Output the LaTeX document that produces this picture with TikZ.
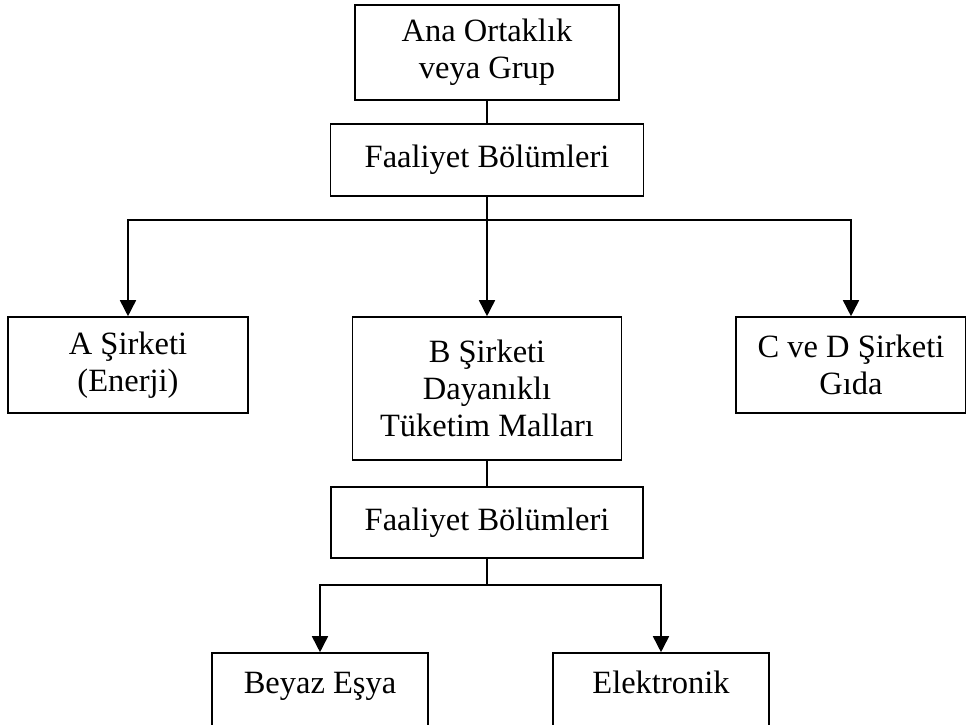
\documentclass[tikz,border=0pt]{standalone}
\usepackage{fontspec}
\setmainfont{Liberation Serif}
\usetikzlibrary{arrows.meta}
\begin{document}
\begin{tikzpicture}[x=1pt,y=-1pt,
  box/.style={draw, line width=1.6pt, rectangle, align=center, inner sep=0pt,
    font=\fontsize{32.5}{37}\selectfont},
  lowbox/.style={box, text height=21pt, text depth=23pt},
  link/.style={line width=1.6pt},
  arr/.style={line width=1.6pt, -{Triangle[width=16pt,length=16pt]}}]
\useasboundingbox (0,0) rectangle (966,724);
\clip (0,0) rectangle (966,724);
\node[box, minimum width=264pt, minimum height=95pt] (top) at (487,52.5) {Ana Ortaklık\\veya Grup};
\node[box, minimum width=313pt, minimum height=72pt] (fb1) at (487,160) {Faaliyet Bölümleri};
\node[box, minimum width=240pt, minimum height=96pt] (A) at (128,365) {A Şirketi\\(Enerji)};
\node[box, minimum width=269pt, minimum height=143pt] (B) at (487,388.5) {B Şirketi\\Dayanıklı\\Tüketim Malları};
\node[box, minimum width=230pt, minimum height=96pt] (C) at (851,365) {C ve D Şirketi\\Gıda};
\node[box, minimum width=312pt, minimum height=71pt] (fb2) at (487,522.5) {Faaliyet Bölümleri};
\node[lowbox, minimum width=216pt, minimum height=82pt] (be) at (320,694) {Beyaz Eşya};
\node[lowbox, minimum width=216pt, minimum height=82pt] (el) at (661,694) {Elektronik};
\coordinate (j1) at (487,220);
\coordinate (j2) at (487,585);
\draw[link] (top.south) -- (fb1.north);
\draw[link] (fb1.south) -- (j1);
\draw[arr] (j1) -| (A.north);
\draw[arr] (j1) -| (C.north);
\draw[arr] (fb1.south) -- (B.north);
\draw[link] (B.south) -- (fb2.north);
\draw[link] (fb2.south) -- (j2);
\draw[arr] (j2) -| (be.north);
\draw[arr] (j2) -| (el.north);
\end{tikzpicture}
\end{document}
